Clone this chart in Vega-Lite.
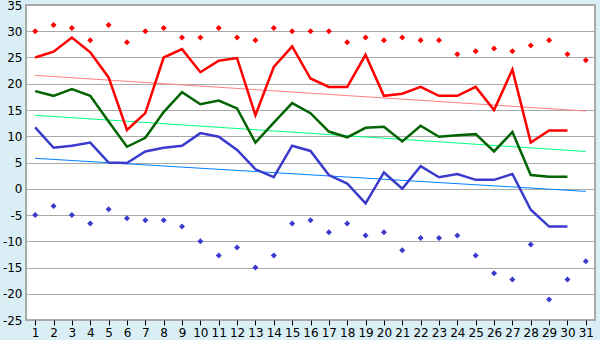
{
  "$schema": "https://vega.github.io/schema/vega-lite/v6.json",
  "width": 569,
  "height": 315,
  "autosize": {"type": "none"},
  "padding": {"left": 26, "top": 5, "right": 5, "bottom": 20},
  "background": "#d9eef5",
  "config": {
    "view": {"fill": "#ffffff", "stroke": "#aaaaaa", "strokeWidth": 2},
    "font": "DejaVu Sans",
    "axisY": {
      "title": null, "domain": false, "ticks": false, "grid": true, "gridColor": "#aaaaaa", "gridWidth": 1, "gridOpacity": 1,
      "labelFontSize": 12, "labelColor": "#000000", "labelPadding": 4,
      "labelOverlap": false, "labelBound": false, "labelFlush": false
    }
  },
  "datasets": {
    "days": [
      {"day": 1, "max": 25.0, "mean": 18.6, "min": 11.7, "recmax": 30.0, "recmin": -5.0},
      {"day": 2, "max": 26.1, "mean": 17.7, "min": 7.8, "recmax": 31.2, "recmin": -3.3},
      {"day": 3, "max": 28.8, "mean": 19.0, "min": 8.2, "recmax": 30.6, "recmin": -5.0},
      {"day": 4, "max": 26.0, "mean": 17.7, "min": 8.8, "recmax": 28.3, "recmin": -6.6},
      {"day": 5, "max": 21.2, "mean": 12.8, "min": 5.0, "recmax": 31.2, "recmin": -3.9},
      {"day": 6, "max": 11.2, "mean": 8.0, "min": 4.9, "recmax": 27.9, "recmin": -5.6},
      {"day": 7, "max": 14.4, "mean": 9.7, "min": 7.1, "recmax": 30.0, "recmin": -6.0},
      {"day": 8, "max": 25.0, "mean": 14.6, "min": 7.8, "recmax": 30.6, "recmin": -6.0},
      {"day": 9, "max": 26.6, "mean": 18.4, "min": 8.2, "recmax": 28.8, "recmin": -7.2},
      {"day": 10, "max": 22.2, "mean": 16.1, "min": 10.6, "recmax": 28.8, "recmin": -10.0},
      {"day": 11, "max": 24.4, "mean": 16.8, "min": 9.9, "recmax": 30.6, "recmin": -12.7},
      {"day": 12, "max": 24.9, "mean": 15.3, "min": 7.4, "recmax": 28.8, "recmin": -11.2},
      {"day": 13, "max": 14.0, "mean": 8.8, "min": 3.7, "recmax": 28.3, "recmin": -15.0},
      {"day": 14, "max": 23.2, "mean": 12.6, "min": 2.2, "recmax": 30.6, "recmin": -12.7},
      {"day": 15, "max": 27.1, "mean": 16.3, "min": 8.2, "recmax": 30.0, "recmin": -6.6},
      {"day": 16, "max": 21.0, "mean": 14.4, "min": 7.2, "recmax": 30.0, "recmin": -6.0},
      {"day": 17, "max": 19.4, "mean": 10.9, "min": 2.6, "recmax": 30.0, "recmin": -8.3},
      {"day": 18, "max": 19.4, "mean": 9.8, "min": 1.0, "recmax": 27.9, "recmin": -6.6},
      {"day": 19, "max": 25.5, "mean": 11.6, "min": -2.8, "recmax": 28.8, "recmin": -8.9},
      {"day": 20, "max": 17.7, "mean": 11.8, "min": 3.1, "recmax": 28.3, "recmin": -8.3},
      {"day": 21, "max": 18.1, "mean": 9.0, "min": 0.0, "recmax": 28.8, "recmin": -11.7},
      {"day": 22, "max": 19.4, "mean": 12.0, "min": 4.3, "recmax": 28.3, "recmin": -9.4},
      {"day": 23, "max": 17.7, "mean": 9.9, "min": 2.2, "recmax": 28.3, "recmin": -9.4},
      {"day": 24, "max": 17.7, "mean": 10.2, "min": 2.8, "recmax": 25.6, "recmin": -8.9},
      {"day": 25, "max": 19.4, "mean": 10.4, "min": 1.7, "recmax": 26.2, "recmin": -12.7},
      {"day": 26, "max": 15.0, "mean": 7.1, "min": 1.7, "recmax": 26.7, "recmin": -16.1},
      {"day": 27, "max": 22.7, "mean": 10.8, "min": 2.8, "recmax": 26.2, "recmin": -17.3},
      {"day": 28, "max": 8.8, "mean": 2.6, "min": -4.0, "recmax": 27.3, "recmin": -10.6},
      {"day": 29, "max": 11.1, "mean": 2.3, "min": -7.2, "recmax": 28.3, "recmin": -21.1},
      {"day": 30, "max": 11.1, "mean": 2.3, "min": -7.2, "recmax": 25.6, "recmin": -17.3},
      {"day": 31, "max": null, "mean": null, "min": null, "recmax": 24.5, "recmin": -13.8}
    ],
    "trend": [
      {"day": 1, "series": "max", "value": 21.6},
      {"day": 31, "series": "max", "value": 14.8},
      {"day": 1, "series": "mean", "value": 14.0},
      {"day": 31, "series": "mean", "value": 7.1},
      {"day": 1, "series": "min", "value": 5.8},
      {"day": 31, "series": "min", "value": -0.5}
    ]
  },
  "encoding": {
    "x": {
      "field": "day", "type": "ordinal",
      "scale": {"type": "point", "padding": 0.5},
      "axis": {
        "title": null, "labelAngle": 0, "domain": false, "grid": false,
        "ticks": true, "tickSize": 5, "tickColor": "#000000", "tickWidth": 1,
        "labelFontSize": 12, "labelColor": "#000000", "labelPadding": 2
      }
    }
  },
  "layer": [
    {
      "data": {"name": "trend"},
      "mark": {"type": "line", "strokeWidth": 1},
      "encoding": {
        "y": {
          "field": "value", "type": "quantitative",
          "scale": {"domain": [-25, 35], "nice": false, "zero": false},
          "axis": {"values": [-25, -20, -15, -10, -5, 0, 5, 10, 15, 20, 25, 30, 35], "labelExpr": "replace(datum.label, '\u2212', '-')"}
        },
        "color": {
          "field": "series", "type": "nominal",
          "scale": {"domain": ["max", "mean", "min"], "range": ["#ff8080", "#00ff80", "#0080ff"]},
          "legend": null
        }
      }
    },
    {
      "data": {"name": "days"},
      "mark": {"type": "point", "shape": "diamond", "filled": true, "size": 36, "color": "#ff0000", "opacity": 1},
      "encoding": {"y": {"field": "recmax", "type": "quantitative", "axis": {"values": [-25, -20, -15, -10, -5, 0, 5, 10, 15, 20, 25, 30, 35], "labelExpr": "replace(datum.label, '\u2212', '-')"}}}
    },
    {
      "data": {"name": "days"},
      "mark": {"type": "point", "shape": "diamond", "filled": true, "size": 36, "color": "#3a3acc", "opacity": 1},
      "encoding": {"y": {"field": "recmin", "type": "quantitative", "axis": {"values": [-25, -20, -15, -10, -5, 0, 5, 10, 15, 20, 25, 30, 35], "labelExpr": "replace(datum.label, '\u2212', '-')"}}}
    },
    {
      "data": {"name": "days"},
      "mark": {"type": "line", "strokeWidth": 2.5, "color": "#3a3acc"},
      "encoding": {"y": {"field": "min", "type": "quantitative", "axis": {"values": [-25, -20, -15, -10, -5, 0, 5, 10, 15, 20, 25, 30, 35], "labelExpr": "replace(datum.label, '\u2212', '-')"}}}
    },
    {
      "data": {"name": "days"},
      "mark": {"type": "line", "strokeWidth": 2.5, "color": "#006400"},
      "encoding": {"y": {"field": "mean", "type": "quantitative", "axis": {"values": [-25, -20, -15, -10, -5, 0, 5, 10, 15, 20, 25, 30, 35], "labelExpr": "replace(datum.label, '\u2212', '-')"}}}
    },
    {
      "data": {"name": "days"},
      "mark": {"type": "line", "strokeWidth": 2.5, "color": "#ff0000"},
      "encoding": {"y": {"field": "max", "type": "quantitative", "axis": {"values": [-25, -20, -15, -10, -5, 0, 5, 10, 15, 20, 25, 30, 35], "labelExpr": "replace(datum.label, '\u2212', '-')"}}}
    }
  ]
}
